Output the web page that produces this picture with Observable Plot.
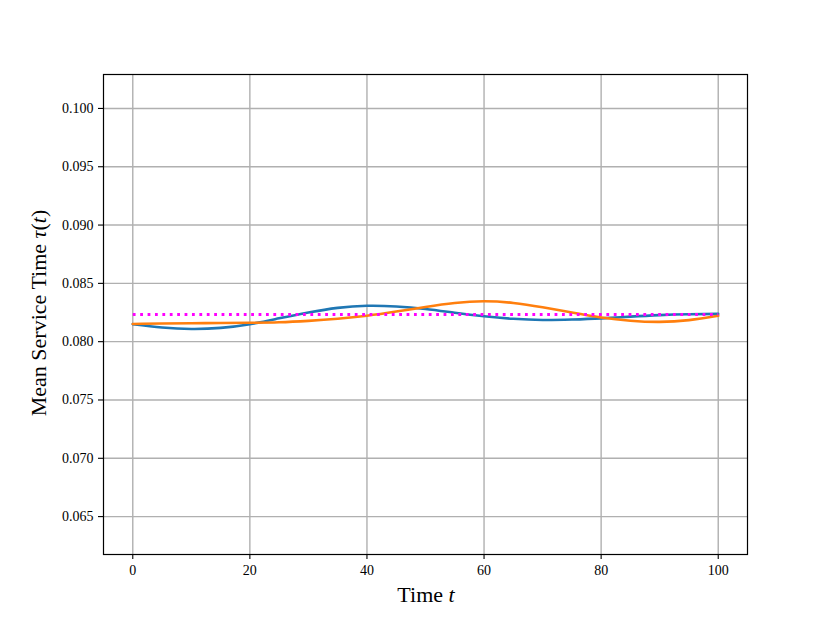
<!DOCTYPE html>
<html>
<head>
<meta charset="utf-8">
<script src="https://cdn.jsdelivr.net/npm/d3@7"></script>
<script src="https://cdn.jsdelivr.net/npm/@observablehq/plot@0.6"></script>
<style>
  html, body { margin: 0; padding: 0; background: #fff; }
  #chart svg { display: block; }
  #chart svg text { font-family: 'Liberation Serif', 'DejaVu Serif', serif; }
</style>
</head>
<body>
<div id="chart"></div>
<script>
const times = [0,5,10,15,20,25,30,35,40,45,50,55,60,65,70,75,80,85,90,95,100];
const blueSeries = [0.08150,0.08122,0.08109,0.08118,0.08150,0.08200,0.08250,0.08290,0.08308,0.08302,0.08280,0.08248,0.08218,0.08196,0.08186,0.08190,0.08200,0.08215,0.08228,0.08235,0.08238];
const orangeSeries = [0.08152,0.08156,0.08158,0.08160,0.08162,0.08166,0.08178,0.08196,0.08222,0.08258,0.08298,0.08332,0.08346,0.08332,0.08295,0.08250,0.08208,0.08180,0.08170,0.08185,0.08222];
const meanLevel = 0.08233;
const xTicks = [0,20,40,60,80,100];
const yTicks = [0.065,0.070,0.075,0.080,0.085,0.090,0.095,0.100];

const blueData = times.map((t,i) => ({t, v: blueSeries[i]}));
const orangeData = times.map((t,i) => ({t, v: orangeSeries[i]}));
const meanData = [{t: times[0], v: meanLevel}, {t: times[times.length-1], v: meanLevel}];

const font = "'Liberation Serif', 'DejaVu Serif', serif";

const chart = Plot.plot({
  width: 830,
  height: 623,
  marginLeft: 103,
  marginRight: 83,
  marginTop: 74,
  marginBottom: 69,
  style: {fontFamily: font, fontSize: "14px", color: "black", background: "white"},
  x: {domain: [-5, 105], ticks: xTicks, label: null},
  y: {domain: [0.06175, 0.10291], ticks: yTicks, label: null, tickFormat: d3.format(".3f")},
  marks: [
    Plot.gridX(xTicks, {stroke: "#b0b0b0", strokeOpacity: 1, strokeWidth: 1.4}),
    Plot.gridY(yTicks, {stroke: "#b0b0b0", strokeOpacity: 1, strokeWidth: 1.4}),
    Plot.axisX(xTicks, {tickSize: 5, tickPadding: 6, stroke: "black", strokeWidth: 1.1, fontSize: 14, fontFamily: font, label: null}),
    Plot.axisY(yTicks, {tickSize: 5, tickPadding: 5, stroke: "black", strokeWidth: 1.1, fontSize: 14, fontFamily: font, label: null, tickFormat: d3.format(".3f")}),
    Plot.line(blueData, {x: "t", y: "v", stroke: "#1f77b4", strokeWidth: 2.6, curve: "natural"}),
    Plot.line(orangeData, {x: "t", y: "v", stroke: "#ff7f0e", strokeWidth: 2.6, curve: "natural"}),
    Plot.line(meanData, {x: "t", y: "v", stroke: "#ff00ff", strokeWidth: 2.8, strokeDasharray: "2.8,4.6", strokeLinecap: "butt"}),
    Plot.frame({stroke: "black", strokeWidth: 1.2})
  ]
});

const svg = d3.select(chart);
// x axis label
const xl = svg.append("text")
  .attr("x", 426).attr("y", 602)
  .attr("text-anchor", "middle")
  .attr("font-family", font).attr("font-size", 22).attr("fill", "black");
xl.append("tspan").text("Time ");
xl.append("tspan").attr("font-style", "italic").text("t");

// y axis label
const yl = svg.append("text")
  .attr("transform", "translate(46,313) rotate(-90)")
  .attr("text-anchor", "middle")
  .attr("font-family", font).attr("font-size", 22).attr("fill", "black");
yl.append("tspan").text("Mean Service Time ");
yl.append("tspan").attr("font-style", "italic").text("τ");
yl.append("tspan").text("(");
yl.append("tspan").attr("font-style", "italic").text("t");
yl.append("tspan").text(")");

document.getElementById("chart").appendChild(chart);
</script>
</body>
</html>
